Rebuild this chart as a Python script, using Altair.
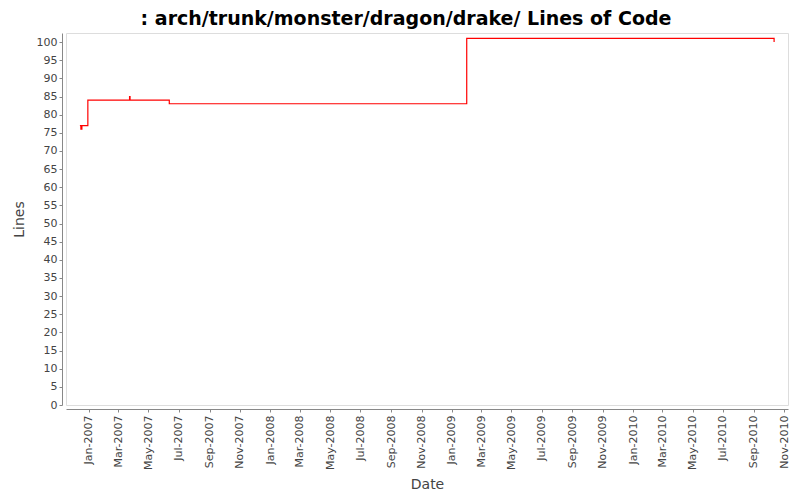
import altair as alt
import pandas as pd

dates = ["2006-12-14", "2006-12-16", "2006-12-18", "2006-12-30",
         "2007-03-24", "2007-03-25", "2007-06-12", "2009-01-31",
         "2010-10-12"]
lines = [77, 76, 77, 84, 85, 84, 83, 101, 100]

tick_months = ["2007-01-01", "2007-03-01", "2007-05-01", "2007-07-01", "2007-09-01",
               "2007-11-01", "2008-01-01", "2008-03-01", "2008-05-01", "2008-07-01",
               "2008-09-01", "2008-11-01", "2009-01-01", "2009-03-01", "2009-05-01",
               "2009-07-01", "2009-09-01", "2009-11-01", "2010-01-01", "2010-03-01",
               "2010-05-01", "2010-07-01", "2010-09-01", "2010-11-01"]
y_ticks = list(range(0, 101, 5))

df = pd.DataFrame({"date": dates, "lines": lines})


def dt(s):
    y, m, d = (int(p) for p in s.split("-"))
    return alt.DateTime(year=y, month=m, date=d, utc=True)


FONT = "DejaVu Sans"
GREY = "#444444"

chart = alt.Chart(df).mark_line(
    interpolate="step-after", color="#ff0000", strokeWidth=1.2
).encode(
    x=alt.X("date:T",
            scale=alt.Scale(type="utc", domain=[dt("2006-11-16"), dt("2010-11-09")]),
            axis=alt.Axis(title="Date",
                          labelExpr="utcFormat(datum.value, '%b-%Y')",
                          values=[dt(s) for s in tick_months],
                          labelAngle=270, labelPadding=3, tickSize=3, offset=4,
                          grid=False, domainColor="#888888", tickColor="#888888",
                          labelFont=FONT, labelFontSize=11, labelColor=GREY,
                          titleFont=FONT, titleFontSize=14, titleFontWeight="normal",
                          titleColor=GREY, titlePadding=8, labelOverlap=False)),
    y=alt.Y("lines:Q",
            scale=alt.Scale(domain=[0, 102.5], nice=False, zero=True),
            axis=alt.Axis(title="Lines", values=y_ticks, tickSize=3, offset=4,
                          labelPadding=2, grid=False, domainColor="#888888",
                          tickColor="#888888",
                          labelFont=FONT, labelFontSize=11, labelColor=GREY,
                          titleFont=FONT, titleFontSize=14, titleFontWeight="normal",
                          titleColor=GREY, titlePadding=10, labelOverlap=False)),
).properties(
    width=722,
    height=372,
    title=alt.TitleParams(": arch/trunk/monster/dragon/drake/ Lines of Code",
                          font=FONT, fontSize=19, fontWeight="bold", color="#000000",
                          anchor="middle", dx=-21, offset=4),
    autosize=alt.AutoSizeParams(type="none"),
    padding={"left": 58, "top": 25, "right": 4, "bottom": 87},
).configure_view(
    stroke="#888888", strokeWidth=1
).configure(background="#ffffff")

chart.save("out.html", embed_options={"renderer": "svg", "actions": False})
